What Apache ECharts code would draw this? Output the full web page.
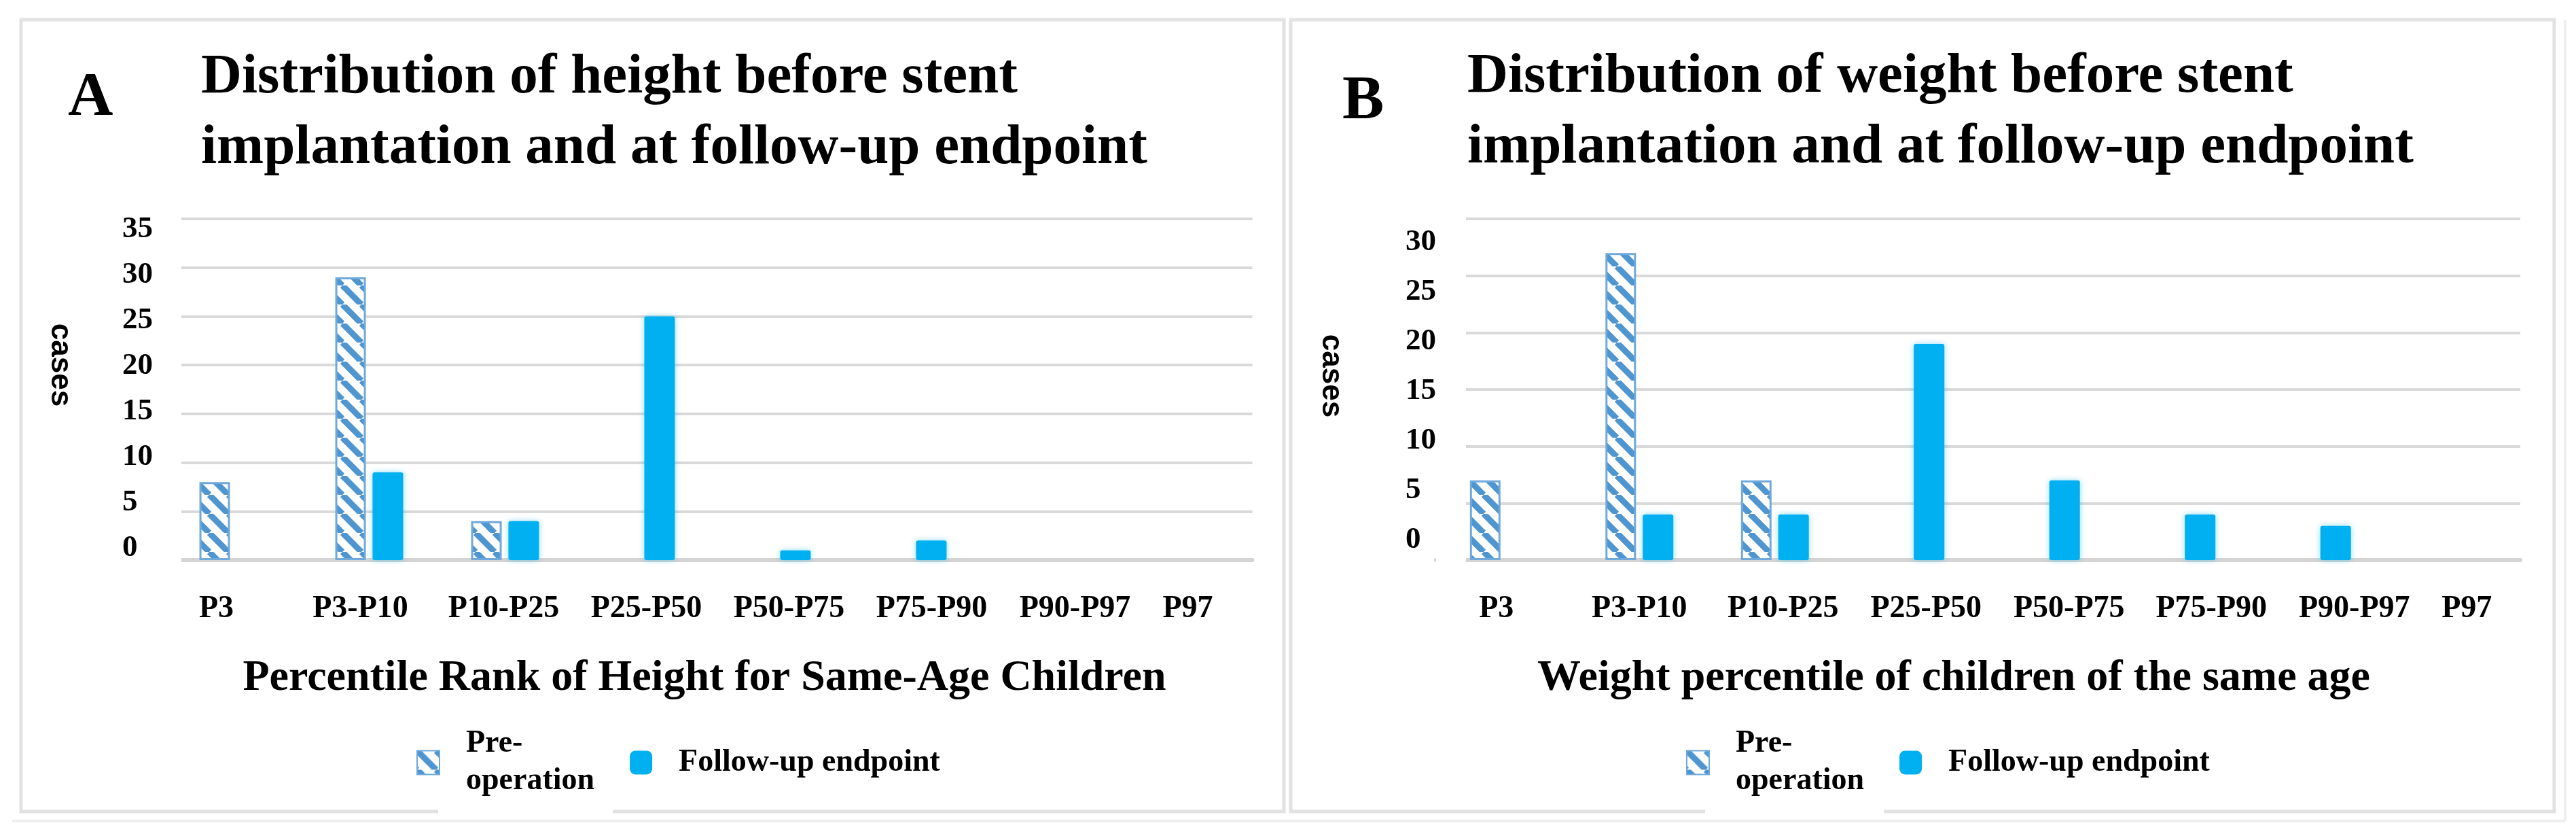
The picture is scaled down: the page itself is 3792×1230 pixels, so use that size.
<!DOCTYPE html>
<html><head><meta charset="utf-8">
<script src="https://cdn.jsdelivr.net/npm/echarts@6/dist/echarts.min.js"></script>
<style>html,body{margin:0;padding:0;background:#fff}#c{width:3792px;height:1230px}</style>
</head><body><div id="c"></div>
<script>
// ---------- data ----------
const categories = ['P3', 'P3-P10', 'P10-P25', 'P25-P50', 'P50-P75', 'P75-P90', 'P90-P97', 'P97'];
const heightPre = [8, 29, 4, 0, 0, 0, 0, 0];
const heightFollow = [0, 9, 4, 25, 1, 2, 0, 0];
const weightPre = [7, 27, 7, 0, 0, 0, 0, 0];
const weightFollow = [0, 4, 4, 19, 7, 4, 3, 0];
const heightTicks = [0, 5, 10, 15, 20, 25, 30, 35];
const weightTicks = [0, 5, 10, 15, 20, 25, 30];
const seriesNames = ['Pre-operation', 'Follow-up endpoint'];
const panelLetters = ['A', 'B'];
const titleA = 'Distribution of height before stent\nimplantation and at follow-up endpoint';
const titleB = 'Distribution of weight before stent\nimplantation and at follow-up endpoint';
const xNameA = 'Percentile Rank of Height for Same-Age Children';
const xNameB = 'Weight percentile of children of the same age';
const yName = 'cases';

// ---------- styling helpers ----------
const SERIF = '"Liberation Serif","Times New Roman",serif';
const SANS = '"Liberation Sans",Arial,sans-serif';
const GRIDC = '#d9d9d9';
const FOLLOW = '#00b0f0';

function hatchCanvas() {
  const s = 28, c = document.createElement('canvas');
  c.width = s; c.height = s;
  const g = c.getContext('2d');
  g.fillStyle = '#ffffff'; g.fillRect(0, 0, s, s);
  g.strokeStyle = '#4f95d0'; g.lineWidth = 9;
  for (const o of [-s, 0, s]) { g.beginPath(); g.moveTo(o, 0); g.lineTo(o + s, s); g.stroke(); }
  return c;
}
const hatch = { image: hatchCanvas(), repeat: 'repeat' };

// per-label horizontal nudges (px) to match the reference's label placement
const shiftA = [-25, -13, -2, 8, 18, 28, 39, 5];
const shiftB = [-11, 0, 12, 23, 34, 44, 55, 21];
function richFor(shifts) {
  const r = {};
  shifts.forEach((d, i) => {
    r['s' + i] = { fontFamily: SERIF, fontWeight: 'bold', fontSize: 46, color: '#000',
      padding: d >= 0 ? [0, 0, 0, 2 * d] : [0, -2 * d, 0, 0] };
  });
  return r;
}
const nz = arr => arr.map(v => (v === 0 ? null : v));

function xAxisFor(grid, name, shifts, namePad) {
  return {
    type: 'category', gridIndex: grid, data: categories,
    axisTick: { show: false },
    axisLine: { lineStyle: { color: '#d4d4d4', width: 6 } },
    axisLabel: { interval: 0, margin: 49, formatter: (v, i) => '{s' + i + '|' + v + '}', rich: richFor(shifts) },
    name: name, nameLocation: 'middle', nameGap: 142,
    nameTextStyle: { fontFamily: SERIF, fontWeight: 'bold', fontSize: 64, color: '#000', padding: namePad }
  };
}
function yMain(grid, max) {
  return {
    type: 'value', gridIndex: grid, min: 0, max: max, interval: 5,
    axisLabel: { show: false }, axisLine: { show: false }, axisTick: { show: false },
    splitLine: { lineStyle: { color: GRIDC, width: 4 } }
  };
}
function yLabels(grid, min, max, ticks, margin, namePad, nameGap) {
  return {
    type: 'value', gridIndex: grid, min: min, max: max, position: 'left',
    axisLine: { show: false }, axisTick: { show: false }, splitLine: { show: false },
    axisLabel: { customValues: ticks, align: 'left', margin: margin,
      fontFamily: SERIF, fontWeight: 'bold', fontSize: 45, color: '#000' },
    name: yName, nameLocation: 'middle', nameGap: nameGap, nameRotate: -90,
    nameTextStyle: { fontFamily: SANS, fontWeight: 'bold', fontSize: 44, color: '#000', padding: namePad }
  };
}
function preSeries(xi, yi, data) {
  return { name: seriesNames[0], type: 'bar', xAxisIndex: xi, yAxisIndex: yi, data: nz(data),
    barWidth: 45, barGap: '22%',
    itemStyle: { color: hatch, borderColor: '#6fa9db', borderWidth: 3 } };
}
function followSeries(xi, yi, data) {
  return { name: seriesNames[1], type: 'bar', xAxisIndex: xi, yAxisIndex: yi, data: nz(data),
    barWidth: 45, barGap: '22%',
    itemStyle: { color: FOLLOW, borderRadius: 3, shadowBlur: 8, shadowColor: 'rgba(0,176,240,0.45)' } };
}
function legendFor(left) {
  return {
    left: left, top: 1062, orient: 'horizontal', itemWidth: 33, itemHeight: 35, itemGap: 52,
    selectedMode: false,
    data: [{ name: seriesNames[0], icon: 'rect' }, { name: seriesNames[1], icon: 'roundRect' }],
    formatter: n => (n === 'Pre-operation' ? 'Pre-\noperation' : n),
    textStyle: { fontFamily: SERIF, fontWeight: 'bold', fontSize: 46, lineHeight: 55, color: '#000', padding: [0, 0, 0, 34] }
  };
}
const tStyle = (size, lh) => ({ fontFamily: SERIF, fontWeight: 'bold', fontSize: size, lineHeight: lh, color: '#000' });

const option = {
  backgroundColor: '#ffffff',
  animation: false,
  title: [
    { text: panelLetters[0], left: 100, top: 99, padding: 0, textStyle: tStyle(92, 92) },
    { text: titleA, left: 296, top: 63, padding: 0, textStyle: tStyle(83, 104) },
    { text: panelLetters[1], left: 1976, top: 104, padding: 0, textStyle: tStyle(92, 92) },
    { text: titleB, left: 2160, top: 62, padding: 0, textStyle: tStyle(83, 104) }
  ],
  legend: [legendFor(608), legendFor(2477)],
  grid: [
    { left: 243.5, right: 3792 - 1843.5, top: 322, bottom: 1230 - 824 },
    { left: 2114, right: 3792 - 3710, top: 322, bottom: 1230 - 824 }
  ],
  xAxis: [xAxisFor(0, xNameA, shiftA, [0, 13, 0, 0]), xAxisFor(1, xNameB, shiftB, [0, 72, 0, 0])],
  yAxis: [
    yMain(0, 35),
    yLabels(0, -1.343, 36.12, heightTicks, 63.5, [0, 72, 0, 0], 133),
    yMain(1, 30),
    yLabels(1, -2.055, 32.33, weightTicks, 45, [0, 40, 0, 0], 133)
  ],
  series: [
    preSeries(0, 0, heightPre), followSeries(0, 0, heightFollow),
    preSeries(1, 2, weightPre), followSeries(1, 2, weightFollow)
  ],
  graphic: [
    { type: 'rect', z: 100, shape: { x: 31, y: 29, width: 1859, height: 1165 }, style: { fill: 'none', stroke: '#e2e2e2', lineWidth: 5 } },
    { type: 'rect', z: 100, shape: { x: 1900, y: 29, width: 1860, height: 1165 }, style: { fill: 'none', stroke: '#e2e2e2', lineWidth: 5 } },
    { type: 'line', z: 100, shape: { x1: 18, y1: 1208, x2: 3776, y2: 1208 }, style: { stroke: '#eeeeee', lineWidth: 4 } },
    { type: 'line', z: 100, shape: { x1: 3776, y1: 29, x2: 3776, y2: 1208 }, style: { stroke: '#eeeeee', lineWidth: 4 } },
    { type: 'rect', z: 101, shape: { x: 645, y: 1188, width: 257, height: 12 }, style: { fill: '#fff' } },
    { type: 'rect', z: 101, shape: { x: 2510, y: 1188, width: 263, height: 12 }, style: { fill: '#fff' } },
    { type: 'rect', z: 101, shape: { x: 238, y: 310, width: 29, height: 525 }, style: { fill: '#fff' } },
    { type: 'rect', z: 101, shape: { x: 2114, y: 310, width: 44, height: 525 }, style: { fill: '#fff' } }
  ]
};
echarts.init(document.getElementById('c')).setOption(option);
</script></body></html>
